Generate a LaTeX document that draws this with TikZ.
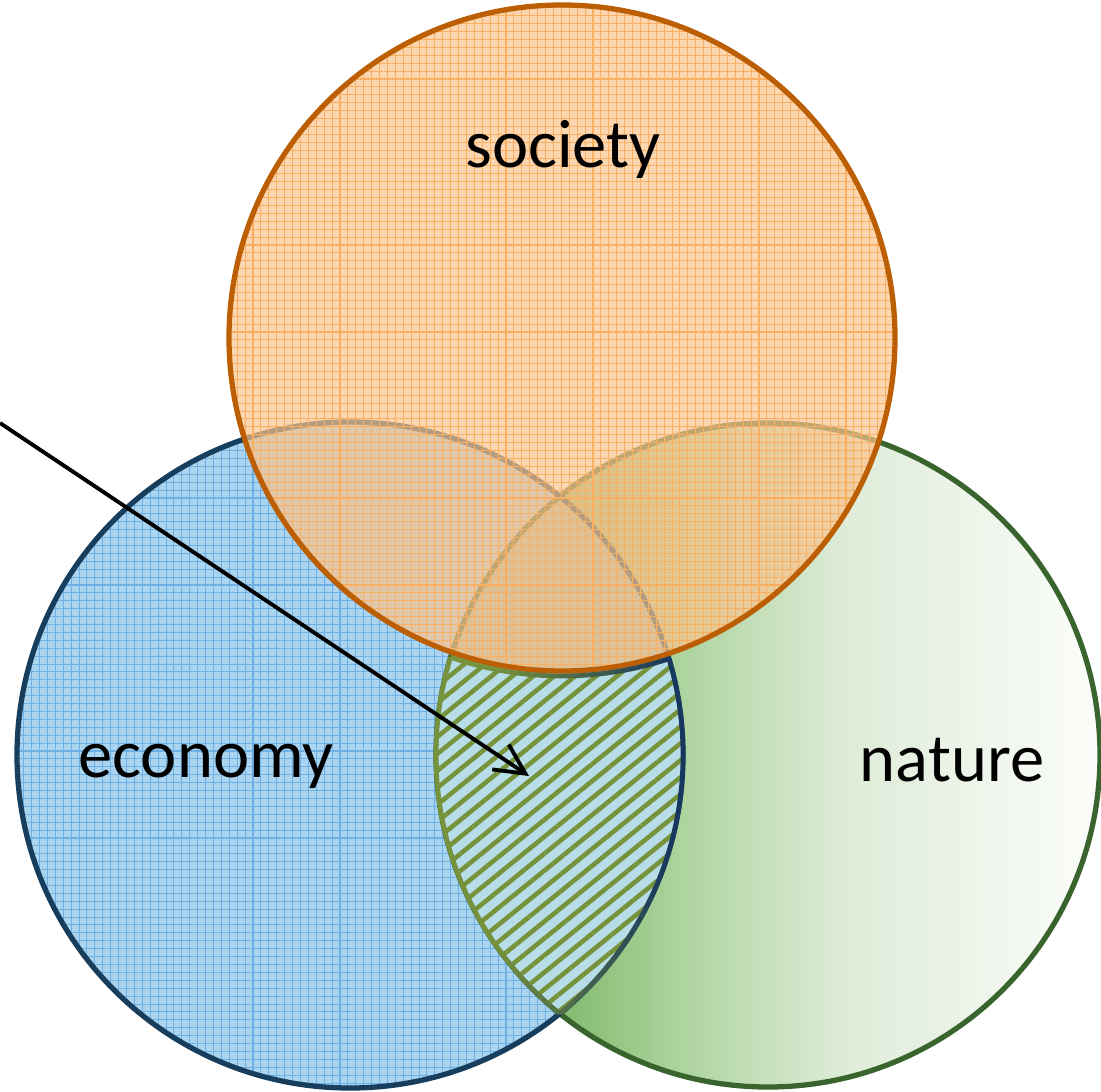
\documentclass[tikz,border=0pt]{standalone}
\usepackage{fontspec}
\setmainfont{Carlito}
\usetikzlibrary{patterns.meta,arrows.meta}
\definecolor{econfill}{RGB}{170,212,240}
\definecolor{econgrid}{RGB}{110,176,228}
\definecolor{econline}{RGB}{24,62,94}
\definecolor{natline}{RGB}{58,100,46}
\definecolor{socfill}{RGB}{250,196,142}
\definecolor{socgrid}{RGB}{249,174,96}
\definecolor{socline}{RGB}{188,94,4}
\definecolor{lensfill}{RGB}{183,222,232}
\definecolor{lensstripe}{RGB}{118,146,58}
\definecolor{lensolive}{RGB}{118,146,60}
\definecolor{lensnavy}{RGB}{23,55,94}
\definecolor{tripletint}{RGB}{130,165,105}
\pgfdeclarehorizontalshading{natureshade}{100bp}{rgb(0bp)=(0.471,0.706,0.392); rgb(25bp)=(0.471,0.706,0.392); rgb(34bp)=(0.502,0.729,0.424); rgb(45bp)=(0.706,0.843,0.651); rgb(56bp)=(0.871,0.925,0.847); rgb(75bp)=(0.988,0.992,0.984); rgb(100bp)=(0.988,0.992,0.984)}
\tikzset{
  ringline/.style={line width=3pt},
  lensline/.style={line width=2.7pt},
  gridpat/.style={pattern={Hatch[angle=0,distance=4.5pt,line width=0.6pt]}},
  stripepat/.style={pattern={Lines[angle=39,distance=7.5pt,line width=2.6pt]}, pattern color=lensstripe},
  vennlabel/.style={font=\fontsize{39}{47}\selectfont, text=black, inner sep=0pt, anchor=base},
  arrowline/.style={draw=black, line width=2.2pt, -{Straight Barb[length=17pt,width=17pt]}}
}
\begin{document}
\begin{tikzpicture}[x=0.02cm,y=-0.02cm]
\useasboundingbox (0,0) rectangle (1101,1091);
\coordinate (S) at (562,338);
\coordinate (E) at (350,755);
\coordinate (N) at (768,755);
% nature fill
\shade[shading=natureshade] (N) circle (332);
% economy fill
\fill[econfill] (E) circle (333);
\fill[gridpat, pattern color=econgrid] (E) circle (333);
% tint of the overlap of economy and nature
\begin{scope}
  \clip (N) circle (332);
  \fill[tripletint, fill opacity=0.45] (E) circle (333);
\end{scope}
\draw[natline, ringline] (N) circle (332);
\draw[econline, ringline] (E) circle (333);
% society
\fill[socfill, fill opacity=0.7] (S) circle (333);
\fill[gridpat, pattern color=socgrid, fill opacity=0.7] (S) circle (333);
\draw[socline, ringline] (S) circle (333);
% lens
\begin{scope}
  \clip (E) circle (333);
  \clip (N) circle (332);
  \begin{scope}[even odd rule]
    \clip (-10,-10) rectangle (1111,1101) (S) circle (338);
    \fill[lensfill] (E) circle (333);
    \fill[stripepat] (E) circle (333);
  \end{scope}
\end{scope}
% lens border with colour gradient
\foreach \i in {0,...,32}{
  \pgfmathsetmacro\stripA{430+8*\i}
  \pgfmathsetmacro\stripB{\stripA+8.6}
  \pgfmathtruncatemacro\mixpct{max(0,min(100,(\stripA+4-495)/175*100))}
  \colorlet{lbc}{lensnavy!\mixpct!lensolive}
  \begin{scope}
    \clip (\stripA,0) rectangle (\stripB,1091);
    \begin{scope}[even odd rule]
      \clip (E) circle (333);
      \clip (-10,-10) rectangle (1111,1101) (S) circle (338);
      \draw[lbc, lensline] (N) circle (332);
    \end{scope}
    \begin{scope}[even odd rule]
      \clip (N) circle (332);
      \clip (-10,-10) rectangle (1111,1101) (S) circle (338);
      \draw[lbc, lensline] (E) circle (333);
    \end{scope}
    \begin{scope}
      \clip (E) circle (333);
      \clip (N) circle (332);
      \draw[lbc, lensline] (S) circle (338);
    \end{scope}
  \end{scope}
}
% labels
\node[vennlabel] (soc) at (563,168) {society};
\node[vennlabel] (eco) at (206,777) {economy};
\node[vennlabel] (nat) at (952,781) {nature};
% arrow
\coordinate (arrstart) at (0,423);
\coordinate (arrtip) at (529,776);
\draw[arrowline] (arrstart) -- (arrtip);
\end{tikzpicture}
\end{document}
